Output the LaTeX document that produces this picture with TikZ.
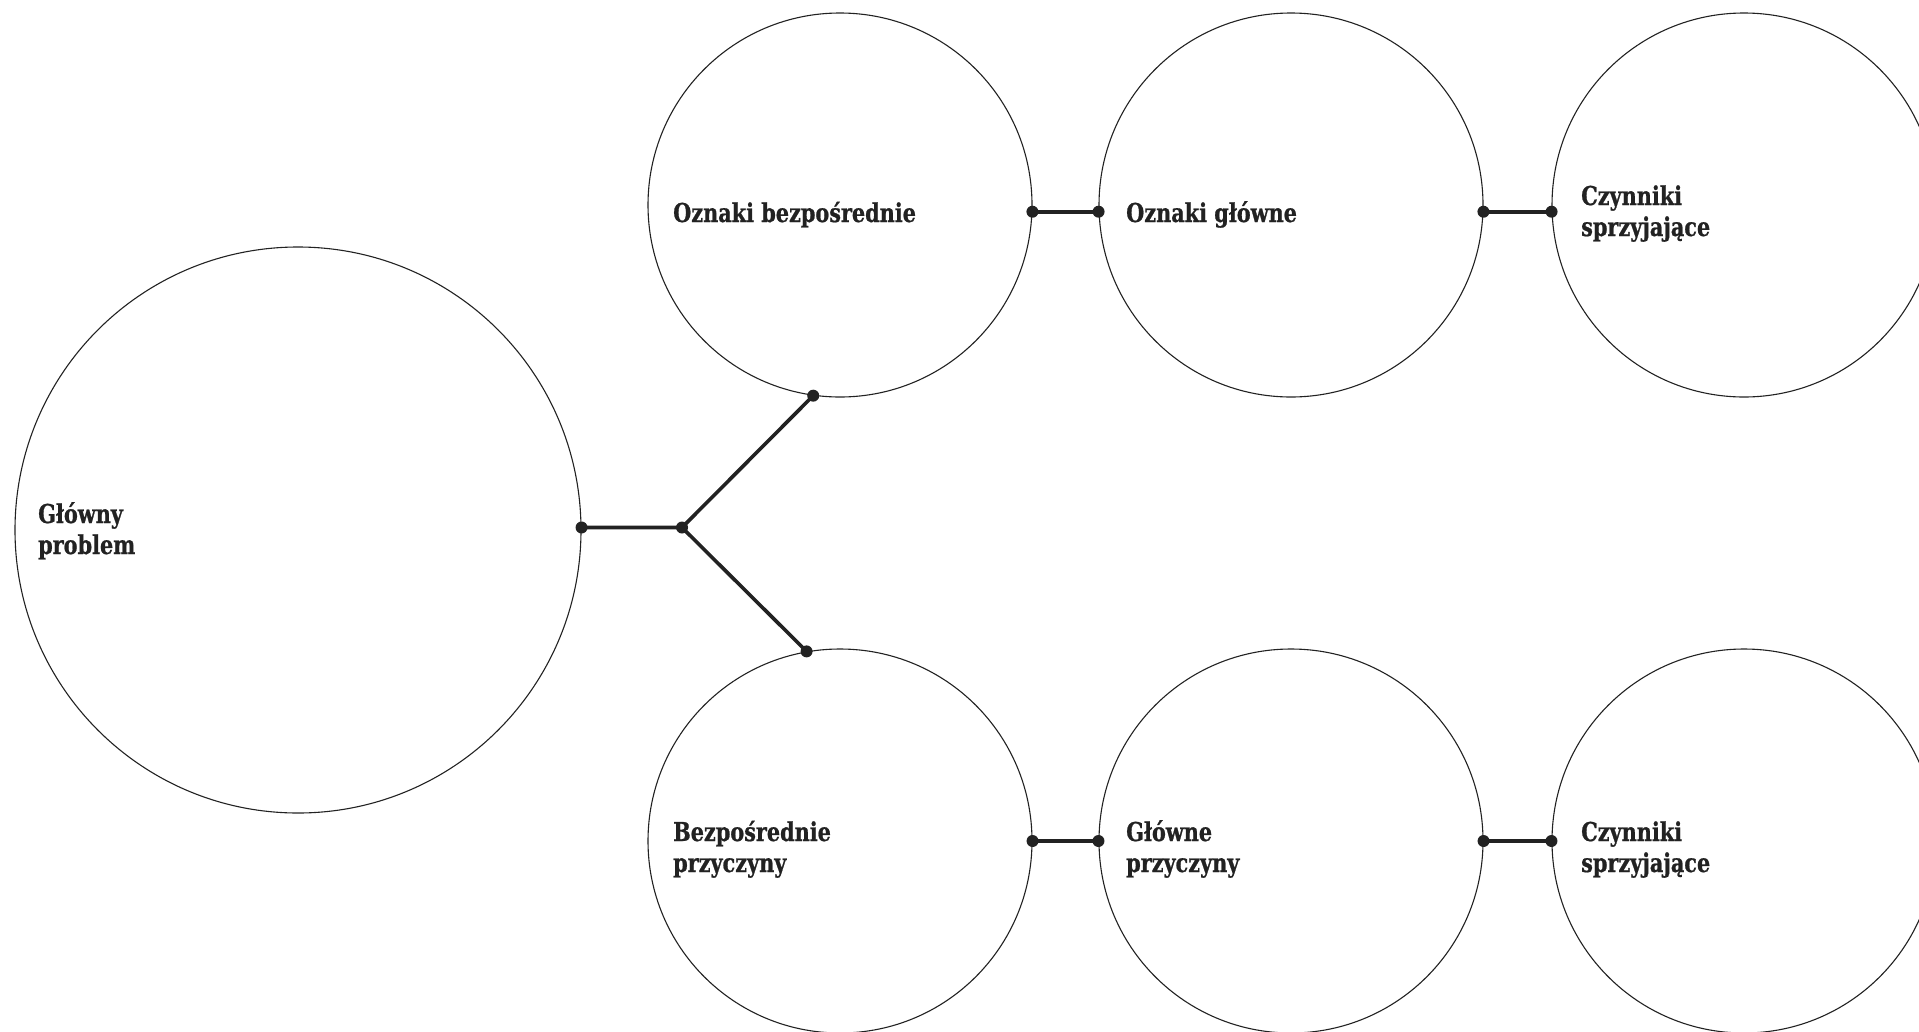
\documentclass[tikz,border=0pt]{standalone}
\usepackage{fontspec}
\setmainfont{DejaVu Serif}[FakeStretch=0.8, BoldFeatures={FakeBold=0.8}]
\definecolor{ink}{HTML}{222222}
\begin{document}
\begin{tikzpicture}[x=1pt,y=-1pt,
  bubble/.style={circle,draw=ink,line width=1.1pt,inner sep=0pt,minimum size=384pt},
  link/.style={draw=ink,line width=3.6pt},
  knot/.style={fill=ink},
  caption/.style={font=\bfseries\fontsize{26}{31}\selectfont,text=ink,align=left,inner sep=0pt,anchor=base west}]
\useasboundingbox (0,0) rectangle (1919,1031);

% bubbles
\node[bubble,minimum size=566pt] (main) at (298,530) {};
\node[bubble] (ob)  at (840,205) {};
\node[bubble] (og)  at (1291,205) {};
\node[bubble] (cz1) at (1744,205) {};
\node[bubble] (bp)  at (840,841) {};
\node[bubble] (gp)  at (1291,841) {};
\node[bubble] (cz2) at (1744,841) {};

% captions (base anchor sits on the last line)
\node[caption] (t-main) at (38,554) {Główny\\problem};
\node[caption] (t-ob)  at (673,222) {Oznaki bezpośrednie};
\node[caption] (t-og)  at (1126,222) {Oznaki główne};
\node[caption] (t-cz1) at (1581,236) {Czynniki\\sprzyjające};
\node[caption] (t-bp)  at (673,872) {Bezpośrednie\\przyczyny};
\node[caption] (t-gp)  at (1126,872) {Główne\\przyczyny};
\node[caption] (t-cz2) at (1581,872) {Czynniki\\sprzyjające};

% branching connector
\coordinate (j) at (682,527.5);
\coordinate (m) at (j -| main.east);
\draw[link] (m) -- (j) -- (ob.-98.3);
\draw[link] (j) -- (bp.100.5);
\draw[link] (ob.-2) -- (og.182);
\draw[link] (og.-2) -- (cz1.182);
\draw[link] (bp.east) -- (gp.west);
\draw[link] (gp.east) -- (cz2.west);

% end points
\foreach \p in {m, j, ob.-98.3, bp.100.5, ob.-2, og.182, og.-2, cz1.182, bp.east, gp.west, gp.east, cz2.west}
  \fill[knot] (\p) circle (6pt);
\end{tikzpicture}
\end{document}
